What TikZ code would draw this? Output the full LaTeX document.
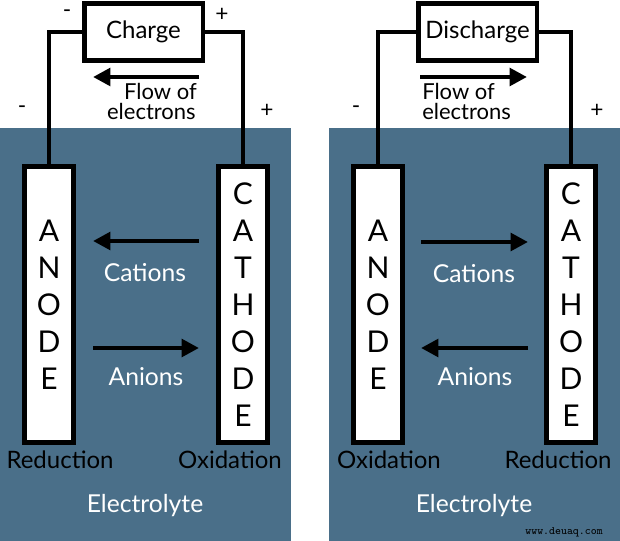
\documentclass[tikz,border=0pt]{standalone}
\usepackage{fontspec}
\setmainfont{Lato}
\usetikzlibrary{arrows.meta}
\definecolor{electro}{RGB}{74,111,137}
\tikzset{
  electrode/.style={draw,line width=3.5pt,fill=white,minimum width=37pt,
    minimum height=207pt,inner sep=0pt,align=center,
    font=\fontsize{22.5}{27.75}\selectfont},
  powerbox/.style={draw,line width=3.5pt,fill=white,minimum width=89pt,
    minimum height=43pt,inner sep=0pt,font=\fontsize{18}{18}\selectfont},
  wire/.style={line width=3pt},
  ionarrow/.style={line width=3.5pt,-{Triangle[length=13pt,width=13pt]}},
  sign/.style={font=\fontsize{17}{17}\selectfont,inner sep=0pt},
  flowtext/.style={font=\fontsize{16.5}{16.5}\selectfont,inner sep=0pt},
  ion/.style={text=white,font=\fontsize{18.5}{18.5}\selectfont,inner sep=0pt},
  process/.style={font=\fontsize{18}{18}\selectfont,inner sep=0pt},
}
\begin{document}
\begin{tikzpicture}[x=0.75pt,y=-0.75pt]
  \useasboundingbox (0,0) rectangle (620,541);
  \fill[white] (0,0) rectangle (620,541);
  \fill[electro] (0,128) rectangle (291,541);
  \fill[electro] (329,128) rectangle (620,541);

  % charge
  \node[powerbox] (charge) at (143.5,32) {Charge};
  \node[electrode] (anodeL) at (49,304.5) {A\\N\\O\\D\\E};
  \node[electrode] (cathodeL) at (243,304.5) {C\\A\\T\\H\\O\\D\\E};
  \draw[wire] (anodeL.north) |- (charge.west);
  \draw[wire] (cathodeL.north) |- (charge.east);

  \node[sign] (minusLa) at (67,14) {-};
  \node[sign] (plusLa) at (222,15) {+};
  \node[sign] (minusLb) at (22,110) {-};
  \node[sign] (plusLb) at (267,111) {+};

  \coordinate (flowLa) at (199,77);
  \coordinate (flowLb) at (93,77);
  \draw[ionarrow] (flowLa) -- (flowLb);
  \node[flowtext,anchor=base east] (flowL) at (197,100) {Flow of};
  \node[flowtext,anchor=base east] (elecL) at (196,120) {electrons};

  \coordinate (catLa) at (199,241);
  \coordinate (catLb) at (93,241);
  \draw[ionarrow] (catLa) -- (catLb);
  \node[ion] (cationsL) at (145,273) {Cations};
  \coordinate (anLa) at (93,348);
  \coordinate (anLb) at (199,348);
  \draw[ionarrow] (anLa) -- (anLb);
  \node[ion] (anionsL) at (146,377) {Anions};

  \node[process,anchor=base] (redL) at (60,468) {Reduction};
  \node[process,anchor=base] (oxL) at (230,468) {Oxidation};
  \node[ion,anchor=base] (electroL) at (145,512) {Electrolyte};

  % discharge
  \node[powerbox] (discharge) at (477.5,32) {Discharge};
  \node[electrode] (anodeR) at (378,304.5) {A\\N\\O\\D\\E};
  \node[electrode] (cathodeR) at (571,304.5) {C\\A\\T\\H\\O\\D\\E};
  \draw[wire] (anodeR.north) |- (discharge.west);
  \draw[wire] (cathodeR.north) |- (discharge.east);

  \node[sign] (minusR) at (356,110) {-};
  \node[sign] (plusR) at (597,111) {+};

  \coordinate (flowRa) at (420,77);
  \coordinate (flowRb) at (527,77);
  \draw[ionarrow] (flowRa) -- (flowRb);
  \node[flowtext,anchor=base west] (flowR) at (422,100) {Flow of};
  \node[flowtext,anchor=base west] (elecR) at (422,120) {electrons};

  \coordinate (catRa) at (421,242);
  \coordinate (catRb) at (528,242);
  \draw[ionarrow] (catRa) -- (catRb);
  \node[ion] (cationsR) at (474,274) {Cations};
  \coordinate (anRa) at (528,348);
  \coordinate (anRb) at (421,348);
  \draw[ionarrow] (anRa) -- (anRb);
  \node[ion] (anionsR) at (475,377) {Anions};

  \node[process,anchor=base] (oxR) at (389,468) {Oxidation};
  \node[process,anchor=base] (redR) at (558,468) {Reduction};
  \node[ion,anchor=base] (electroR) at (474,512) {Electrolyte};

  \node[anchor=base east,inner sep=0pt,font=\ttfamily\fontsize{8.5}{8.5}\selectfont] (mark) at (603,534) {www.deuaq.com};
\end{tikzpicture}
\end{document}
